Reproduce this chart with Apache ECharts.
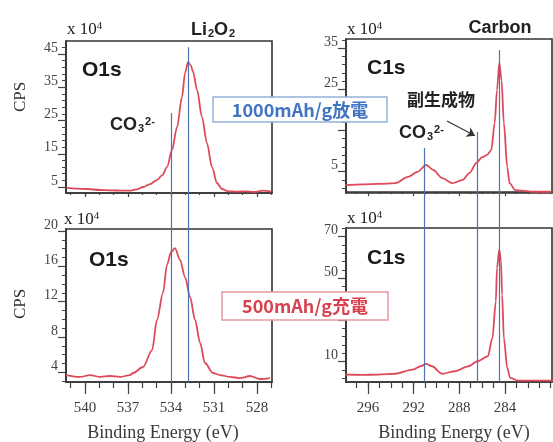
<!DOCTYPE html>
<html>
<head>
<meta charset="utf-8">
<script src="https://cdn.jsdelivr.net/npm/echarts@6/dist/echarts.min.js"></script>
<style>
  html, body { margin: 0; padding: 0; background: #fff; }
  #chart { width: 553px; height: 442px; }
</style>
</head>
<body>
<div id="chart"></div>
<script>
// XPS spectra: O1s and C1s, after 1000 mAh/g discharge (top) and 500 mAh/g charge (bottom)
// counts are in units of 10^4 CPS

const dischargeO1sEnergy = [541.3, 540.6, 539.8, 539.0, 538.2, 537.4, 536.9, 536.4, 535.95, 535.5, 534.98, 534.6, 534.28, 533.93, 533.58, 533.23, 533.02, 532.81, 532.62, 532.46, 532.18, 531.84, 531.49, 531.14, 530.79, 530.44, 530.0, 529.4, 528.8, 528.2, 527.6, 527.0];
const dischargeO1sCounts = [4.8, 4.5, 4.4, 4.1, 4.0, 3.9, 3.9, 4.3, 5.0, 5.8, 7.1, 8.6, 11.0, 16.1, 23.0, 32.1, 39.3, 42.6, 41.6, 39.6, 34.2, 26.1, 18.2, 11.0, 6.2, 4.4, 3.7, 3.6, 3.7, 3.5, 3.9, 3.6];

const dischargeC1sEnergy = [298.0, 296.5, 295.1, 293.6, 292.5, 291.7, 290.9, 290.3, 289.5, 288.6, 287.7, 287.1, 286.5, 286.0, 285.6, 285.2, 284.9, 284.7, 284.5, 284.3, 284.1, 283.8, 283.6, 283.1, 281.6, 279.9];
const dischargeC1sCounts = [1.7, 1.9, 2.0, 2.2, 3.7, 4.9, 6.6, 5.4, 3.4, 2.2, 3.0, 4.7, 7.1, 8.5, 9.0, 10.2, 16.8, 24.8, 31.4, 27.2, 16.8, 6.1, 2.2, 0.5, 0.1, 0.1];

const chargeO1sEnergy = [541.33, 540.35, 539.65, 538.95, 538.25, 537.56, 536.86, 536.65, 535.95, 535.32, 534.98, 534.56, 534.28, 534.0, 533.72, 533.37, 533.02, 532.67, 532.32, 531.97, 531.63, 531.07, 530.58, 529.88, 529.18, 528.49, 527.79, 527.09];
const chargeO1sCounts = [3.69, 3.47, 3.69, 3.47, 3.58, 3.47, 3.69, 3.92, 4.6, 6.52, 9.92, 12.98, 16.15, 17.6, 18.07, 16.72, 14.79, 12.53, 9.92, 7.32, 5.05, 3.92, 3.69, 3.47, 3.35, 3.58, 3.24, 3.35];

const chargeC1sEnergy = [298.0, 296.5, 295.1, 293.6, 292.1, 291.4, 290.9, 290.4, 289.5, 288.4, 287.2, 286.4, 285.5, 285.1, 284.8, 284.7, 284.5, 284.35, 284.25, 284.1, 283.8, 283.55, 282.85, 280.5, 279.8];
const chargeC1sCounts = [3.75, 3.7, 3.75, 4.2, 6.15, 7.8, 8.9, 7.8, 4.2, 5.4, 7.8, 10.2, 12.6, 21.4, 39.1, 55.0, 63.8, 58.3, 42.2, 21.4, 7.0, 2.2, 0.9, 0.9, 0.9];

// reference peak positions (eV)
const o1sRefLines = [534.0, 532.8];          // CO3^2-, Li2O2
const c1sRefLines = [291.1, 286.4, 284.5];   // CO3^2-, by-product, carbon

// tick labels
const o1sEnergyTicks = [540, 537, 534, 531, 528];
const c1sEnergyTicks = [296, 292, 288, 284];
const dischargeO1sYTicks = [5, 15, 25, 35, 45];
const dischargeO1sYLabels = [5, 15, 25, 35, 45];
const dischargeC1sYTicks = [5, 15, 25, 35];
const dischargeC1sYLabels = [5, 25, 35];
const chargeO1sYTicks = [4, 8, 12, 16, 20];
const chargeO1sYLabels = [4, 8, 12, 16, 20];
const chargeC1sYTicks = [10, 30, 50, 70];
const chargeC1sYLabels = [10, 50, 70];

// ---------- helpers ----------
const FRAME = '#333333';
const CURVE = '#de4a5a';
const REF = '#4f72b4';
const SERIF = '"Liberation Serif", "DejaVu Serif", serif';
const SANS = '"Liberation Sans", Arial, sans-serif';
const CJK = '"Noto Sans CJK JP", "Noto Sans CJK SC", sans-serif';

function steps(from, to, step) {
  const out = [];
  for (let v = from; v <= to + 1e-9; v += step) out.push(+v.toFixed(6));
  return out;
}
function pairs(xs, ys) { return xs.map((x, i) => [x, ys[i]]); }

function xAxes(grid, min, max, majors, labelled) {
  const majorLen = labelled ? 12 : 4;
  const minorLen = labelled ? 6 : 2;
  return [
    {
      type: 'value', gridIndex: grid, min, max, inverse: true, position: 'bottom',
      axisLine: { show: true, lineStyle: { color: FRAME, width: 1.6 } },
      axisTick: { show: true, inside: false, length: majorLen, customValues: majors,
                  lineStyle: { color: '#444', width: 1.2 } },
      axisLabel: { show: labelled, customValues: majors, margin: 19,
                   fontFamily: SERIF, fontSize: 15, color: '#3a3a3a' },
      splitLine: { show: false }
    },
    {
      type: 'value', gridIndex: grid, min, max, inverse: true, position: 'bottom',
      axisLine: { show: false },
      axisTick: { show: true, inside: false, length: minorLen,
                  customValues: steps(Math.ceil(min), Math.floor(max), 1),
                  lineStyle: { color: '#444', width: 1.2 } },
      axisLabel: { show: false },
      splitLine: { show: false }
    }
  ];
}

function yAxes(grid, min, max, majors, labels, minorStep, minorFrom) {
  return [
    {
      type: 'value', gridIndex: grid, min, max, position: 'left',
      axisLine: { show: true, lineStyle: { color: FRAME, width: 1.6 } },
      axisTick: { show: true, inside: false, length: 8, customValues: majors,
                  lineStyle: { color: '#444', width: 1.2 } },
      axisLabel: { show: true, customValues: labels, margin: 8, verticalAlign: 'bottom',
                   lineHeight: 12, fontFamily: SERIF, fontSize: 14, color: '#444' },
      splitLine: { show: false }
    },
    {
      type: 'value', gridIndex: grid, min, max, position: 'left',
      axisLine: { show: false },
      axisTick: { show: true, inside: false, length: 4,
                  customValues: steps(minorFrom, max, minorStep),
                  lineStyle: { color: '#444', width: 1 } },
      axisLabel: { show: false },
      splitLine: { show: false }
    }
  ];
}

const gridBox = { show: true, borderColor: FRAME, borderWidth: 1.6, backgroundColor: 'transparent' };

const grids = [
  Object.assign({ left: 66, top: 41, width: 206, height: 152 }, gridBox),   // discharge O1s
  Object.assign({ left: 346, top: 39, width: 206, height: 154 }, gridBox),  // discharge C1s
  Object.assign({ left: 66, top: 229, width: 206, height: 153 }, gridBox),  // charge O1s
  Object.assign({ left: 346, top: 228, width: 206, height: 154 }, gridBox), // charge C1s
  { left: 66, top: 41, width: 206, height: 341, show: false },              // reference lines, left column
  { left: 346, top: 39, width: 206, height: 343, show: false }              // reference lines, right column
];

const O1S_MIN = 526.95, O1S_MAX = 541.33;
const C1S_MIN = 279.88, C1S_MAX = 297.93;

const xAxis = [].concat(
  xAxes(0, O1S_MIN, O1S_MAX, o1sEnergyTicks, false),
  xAxes(1, C1S_MIN, C1S_MAX, c1sEnergyTicks, false),
  xAxes(2, O1S_MIN, O1S_MAX, o1sEnergyTicks, true),
  xAxes(3, C1S_MIN, C1S_MAX, c1sEnergyTicks, true),
  [
    { type: 'value', gridIndex: 4, min: O1S_MIN, max: O1S_MAX, inverse: true, show: false },
    { type: 'value', gridIndex: 5, min: C1S_MIN, max: C1S_MAX, inverse: true, show: false }
  ]
);

const yAxis = [].concat(
  yAxes(0, 3.2, 48.9, dischargeO1sYTicks, dischargeO1sYLabels, 2, 5),
  yAxes(1, -0.2, 37.2, dischargeC1sYTicks, dischargeC1sYLabels, 2, 1),
  yAxes(2, 2.9, 20.23, chargeO1sYTicks, chargeO1sYLabels, 1, 3),
  yAxes(3, 0.24, 74.2, chargeC1sYTicks, chargeC1sYLabels, 4, 2),
  [
    { type: 'value', gridIndex: 4, min: 0, max: 1, show: false },
    { type: 'value', gridIndex: 5, min: 0, max: 1, show: false }
  ]
);

function spectrum(xi, yi, data, extra) {
  return Object.assign({
    type: 'line', xAxisIndex: xi, yAxisIndex: yi, data,
    showSymbol: false, smooth: 0.3, smoothMonotone: 'x',
    lineStyle: { color: CURVE, width: 1.8 }, z: 3, silent: true
  }, extra || {});
}

// leader lines: where each reference line starts, as a fraction of the column height
const o1sLeadTops = [0.789, 0.982];
const c1sLeadTops = [0.682, 0.729, 0.968];

function refLines(xi, yi, energies, tops) {
  return {
    type: 'line', xAxisIndex: xi, yAxisIndex: yi, data: [], silent: true, z: 2,
    markLine: {
      silent: true, symbol: 'none', label: { show: false }, animation: false,
      lineStyle: { color: REF, width: 1.2, type: 'solid' },
      data: energies.map((e, i) => [{ coord: [e, tops[i]] }, { coord: [e, 0] }])
    }
  };
}

const series = [
  refLines(8, 8, o1sRefLines, o1sLeadTops),
  refLines(9, 9, c1sRefLines, c1sLeadTops),
  spectrum(0, 0, pairs(dischargeO1sEnergy, dischargeO1sCounts)),
  spectrum(2, 2, pairs(dischargeC1sEnergy, dischargeC1sCounts), {
    // arrow pointing at the by-product shoulder
    markLine: {
      silent: true, symbol: ['none', 'arrow'], symbolSize: 8, label: { show: false },
      lineStyle: { color: '#333', width: 1.2, type: 'solid' },
      data: [[{ coord: [289.08, 17.3] }, { coord: [286.63, 13.7] }]]
    }
  }),
  spectrum(4, 4, pairs(chargeO1sEnergy, chargeO1sCounts)),
  spectrum(6, 6, pairs(chargeC1sEnergy, chargeC1sCounts))
];

// ---------- text annotations ----------
function txt(x, y, text, font, fill, align, vAlign, extra) {
  return Object.assign({
    type: 'text', x, y, z: 50,
    style: { text, font, fill, align: align || 'left', verticalAlign: vAlign || 'middle',
             textAlign: align || 'left', textVerticalAlign: vAlign || 'middle' }
  }, extra || {});
}
function richTxt(x, y, text, rich, align, vAlign) {
  return {
    type: 'text', x, y, z: 50,
    style: { text, rich, fill: '#222', align: align || 'left', verticalAlign: vAlign || 'middle',
             textAlign: align || 'left', textVerticalAlign: vAlign || 'middle' }
  };
}

const expRich = {
  n: { fontFamily: SERIF, fontSize: 17, lineHeight: 17, color: '#444', verticalAlign: 'bottom' },
  s: { fontFamily: SERIF, fontSize: 11, lineHeight: 11, color: '#444', verticalAlign: 'top' }
};
const chemRich = {
  b: { fontFamily: SANS, fontWeight: 'bold', fontSize: 18, lineHeight: 18, color: '#222', verticalAlign: 'middle' },
  sub: { fontFamily: SANS, fontWeight: 'bold', fontSize: 11, lineHeight: 11, padding: [12, 0, 0, 1], color: '#222', verticalAlign: 'bottom' },
  sup: { fontFamily: SANS, fontWeight: 'bold', fontSize: 11, lineHeight: 11, padding: [0, 0, 10, 1], color: '#222', verticalAlign: 'top' }
};

const graphic = [
  // multiplier labels
  richTxt(67, 38, '{n|x 10}{s|4}', expRich, 'left', 'bottom'),
  richTxt(347, 38, '{n|x 10}{s|4}', expRich, 'left', 'bottom'),
  richTxt(64, 228, '{n|x 10}{s|4}', expRich, 'left', 'bottom'),
  richTxt(347, 227, '{n|x 10}{s|4}', expRich, 'left', 'bottom'),

  // peak names
  richTxt(213, 30, '{b|Li}{sub|2}{b|O}{sub|2}', chemRich, 'center', 'middle'),
  txt(500, 28, 'Carbon', 'bold 18px ' + SANS, '#222', 'center'),
  richTxt(110, 125, '{b|CO}{sub|3}{sup|2-}', chemRich, 'left', 'middle'),
  richTxt(399, 133, '{b|CO}{sub|3}{sup|2-}', chemRich, 'left', 'middle'),
  txt(407, 100, '副生成物', 'bold 17px ' + CJK, '#222', 'left'),

  // core levels
  txt(82, 70.5, 'O1s', 'bold 21px ' + SANS, '#1a1a1a', 'left'),
  txt(89, 260.5, 'O1s', 'bold 21px ' + SANS, '#1a1a1a', 'left'),
  txt(367, 68.5, 'C1s', 'bold 21px ' + SANS, '#1a1a1a', 'left'),
  txt(367, 258, 'C1s', 'bold 21px ' + SANS, '#1a1a1a', 'left'),

  // axis titles
  txt(21, 97, 'CPS', '17px ' + SERIF, '#333', 'center', 'middle', { rotation: Math.PI / 2 }),
  txt(21, 304, 'CPS', '17px ' + SERIF, '#333', 'center', 'middle', { rotation: Math.PI / 2 }),
  txt(163, 433, 'Binding Energy (eV)', '18px ' + SERIF, '#3a3a3a', 'center'),
  txt(454, 433, 'Binding Energy (eV)', '18px ' + SERIF, '#3a3a3a', 'center'),

  // condition boxes
  { type: 'rect', z: 40, shape: { x: 213, y: 97, width: 174, height: 25 },
    style: { fill: '#ffffff', stroke: '#93b2da', lineWidth: 1.5 } },
  txt(300, 110, '1000mAh/g放電', 'bold 18px ' + CJK, '#4274c2', 'center', 'middle', { style: {
    text: '1000mAh/g放電', font: 'bold 18px ' + CJK, fill: '#4274c2', align: 'center', verticalAlign: 'middle',
    textAlign: 'center', textVerticalAlign: 'middle', letterSpacing: 1.5 } }),
  { type: 'rect', z: 40, shape: { x: 222, y: 292, width: 166, height: 28 },
    style: { fill: '#ffffff', stroke: '#e39aa0', lineWidth: 1.5 } },
  txt(305, 306, '500mAh/g充電', 'bold 18px ' + CJK, '#d8424f', 'center', 'middle', { style: {
    text: '500mAh/g充電', font: 'bold 18px ' + CJK, fill: '#d8424f', align: 'center', verticalAlign: 'middle',
    textAlign: 'center', textVerticalAlign: 'middle', letterSpacing: 1.5 } })
];

const chart = echarts.init(document.getElementById('chart'), null, { renderer: 'canvas' });
chart.setOption({
  animation: false,
  backgroundColor: '#ffffff',
  grid: grids,
  xAxis,
  yAxis,
  series,
  graphic
});
</script>
</body>
</html>
